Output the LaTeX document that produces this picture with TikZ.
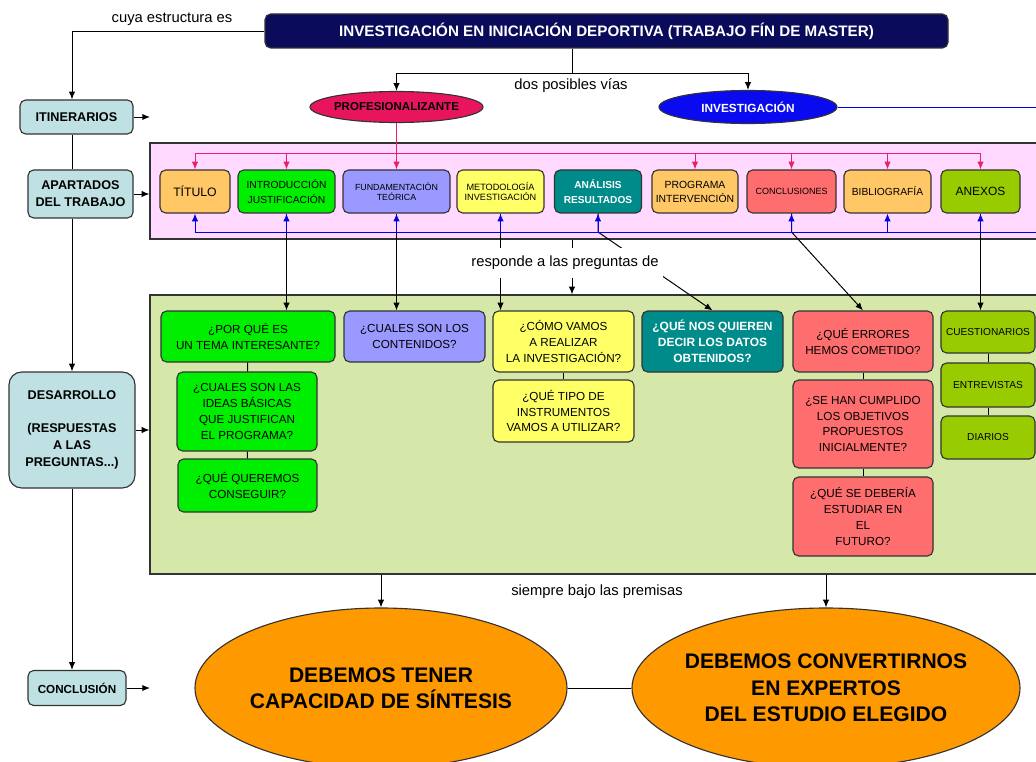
\documentclass[tikz,border=0pt]{standalone}
\usepackage{fontspec}
\setmainfont{Liberation Sans}
\usetikzlibrary{arrows.meta,shapes.geometric}

\definecolor{navy}{HTML}{0B0B5C}
\definecolor{sidebox}{HTML}{BFE1E4}
\definecolor{pinkzone}{HTML}{FFD9FF}
\definecolor{greenzone}{HTML}{D5E8A9}
\definecolor{crimson}{HTML}{E8155E}
\definecolor{pinkline}{HTML}{E8206A}
\definecolor{invblue}{HTML}{0A0AF0}
\definecolor{lineblue}{HTML}{0000E0}
\definecolor{peach}{HTML}{FFC766}
\definecolor{brightgreen}{HTML}{00EE00}
\definecolor{lavender}{HTML}{9999FF}
\definecolor{lightyellow}{HTML}{FFFF66}
\definecolor{tealbox}{HTML}{008B8B}
\definecolor{salmon}{HTML}{FF6E6E}
\definecolor{olivegreen}{HTML}{99CC00}
\definecolor{bigorange}{HTML}{FF9900}

\begin{document}
\begin{tikzpicture}[x=0.025cm, y=-0.025cm,
    sz/.style 2 args={minimum width=#1*0.025cm, minimum height=#2*0.025cm},
    box/.style={draw=black!80, line width=0.8pt, rounded corners=4pt, align=center, inner sep=1pt},
    side/.style={box, fill=sidebox, font=\fontsize{9}{11.9}\selectfont\bfseries},
    part/.style={box, fill=#1},
    ask/.style={box, fill=#1, font=\fontsize{8.3}{11.2}\selectfont},
    oval/.style={ellipse, draw=black!80, line width=0.8pt, inner xsep=-8pt, inner ysep=1pt, align=center},
    zone/.style={draw=black!80, line width=0.8pt, fill=#1, inner sep=0pt},
    flow/.style={line width=0.7pt, -{Latex[length=5.5pt,width=4.5pt]}},
    link/.style={line width=0.7pt},
    pinkflow/.style={flow, draw=pinkline},
    blueflow/.style={flow, draw=lineblue},
    phrase/.style={font=\fontsize{10.5}{12}\selectfont}]

    \useasboundingbox (0,0) rectangle (1036,761);

    % cabecera
    \node[box, fill=navy, text=white, font=\fontsize{10.8}{13}\selectfont\bfseries, sz={683}{34}] (title) at (606.5,31) {INVESTIGACIÓN EN INICIACIÓN DEPORTIVA (TRABAJO FÍN DE MASTER)};
    \node[phrase] (cuya) at (172,19) {cuya estructura es};
    \node[phrase] (vias) at (571,86) {dos posibles vías};
    \node[oval, fill=crimson, sz={173}{31}, font=\fontsize{8.2}{10}\selectfont\bfseries] (prof) at (396.5,107) {PROFESIONALIZANTE};
    \node[oval, fill=invblue, text=white, sz={178}{33}, font=\fontsize{8.4}{10}\selectfont\bfseries] (inv) at (748,107) {INVESTIGACIÓN};

    % columna izquierda
    \coordinate (spine) at (72,0);
    \coordinate (split) at (572,73);
    \coordinate (invturn) at (1060,107);
    \coordinate (itinend) at (150,117);
    \coordinate (concend) at (150,688);
    \node[side, sz={113}{34}] (itin) at (76.5,117) {ITINERARIOS};
    \node[side, sz={105}{48}] (apart) at (80.5,194) {APARTADOS\\DEL TRABAJO};
    \node[side, rounded corners=9pt, sz={126}{116}] (desar) at (72,430) {DESARROLLO\\[11.5pt](RESPUESTAS\\A LAS\\PREGUNTAS...)};
    \node[side, font=\fontsize{8.3}{10}\selectfont\bfseries, sz={98}{35}] (conc) at (77,688) {CONCLUSIÓN};

    % zonas
    \node[zone=pinkzone, sz={910}{96}] (apartzone) at (605,191) {};
    \node[zone=greenzone, sz={910}{279}] (desarzone) at (605,434.5) {};

    % apartados del trabajo
    \node[part=peach, sz={70}{43}, font=\fontsize{8.7}{10}\selectfont] (titulo) at (195,191.5) {TÍTULO};
    \node[part=brightgreen, sz={97}{43}, font=\fontsize{7.3}{10.5}\selectfont] (intro) at (286.5,191.5) {INTRODUCCIÓN\\JUSTIFICACIÓN};
    \node[part=lavender, sz={107}{43}, font=\fontsize{6.3}{7}\selectfont] (fund) at (396.5,191.5) {FUNDAMENTACIÓN\\TEÓRICA};
    \node[part=lightyellow, sz={87}{43}, font=\fontsize{6.5}{7.2}\selectfont] (metod) at (500.5,191.5) {METODOLOGÍA\\INVESTIGACIÓN};
    \node[part=tealbox, text=white, sz={87}{43}, font=\fontsize{7.2}{10.5}\selectfont\bfseries] (analisis) at (598,191.5) {ANÁLISIS\\RESULTADOS};
    \node[part=peach, sz={86}{43}, font=\fontsize{7.4}{10}\selectfont] (programa) at (695,191.5) {PROGRAMA\\INTERVENCIÓN};
    \node[part=salmon, sz={89}{43}, font=\fontsize{6.4}{8}\selectfont] (concl) at (791.5,191.5) {CONCLUSIONES};
    \node[part=peach, sz={87}{43}, font=\fontsize{7.3}{9}\selectfont] (biblio) at (887.5,191.5) {BIBLIOGRAFÍA};
    \node[part=olivegreen, sz={79}{43}, font=\fontsize{8.5}{10}\selectfont] (anexos) at (980.5,191.5) {ANEXOS};

    % preguntas
    \node[ask=brightgreen, sz={174}{51}] (porque) at (248,336.5) {¿POR QUÉ ES\\UN TEMA INTERESANTE?};
    \node[ask=brightgreen, sz={140}{79}] (ideas) at (247,411.5) {¿CUALES SON LAS\\IDEAS BÁSICAS\\QUE JUSTIFICAN\\EL PROGRAMA?};
    \node[ask=brightgreen, sz={139}{53}] (conseguir) at (247.5,485.5) {¿QUÉ QUEREMOS\\CONSEGUIR?};
    \node[ask=lavender, sz={141}{51}] (contenidos) at (414.5,336.5) {¿CUALES SON LOS\\CONTENIDOS?};
    \node[ask=lightyellow, sz={141}{61}] (como) at (563.5,341.5) {¿CÓMO VAMOS\\A REALIZAR\\LA INVESTIGACIÓN?};
    \node[ask=lightyellow, sz={141}{62}] (instrumentos) at (563.5,411) {¿QUÉ TIPO DE\\INSTRUMENTOS\\VAMOS A UTILIZAR?};
    \node[ask=tealbox, text=white, font=\fontsize{8.5}{11.2}\selectfont\bfseries, sz={141}{61}] (datos) at (712.5,341.5) {¿QUÉ NOS QUIEREN\\DECIR LOS DATOS\\OBTENIDOS?};
    \node[ask=salmon, sz={140}{61}] (errores) at (863,341.5) {¿QUÉ ERRORES\\HEMOS COMETIDO?};
    \node[ask=salmon, sz={140}{88}] (objetivos) at (863,424) {¿SE HAN CUMPLIDO\\LOS OBJETIVOS\\PROPUESTOS\\INICIALMENTE?};
    \node[ask=salmon, sz={140}{79}] (futuro) at (863,516.5) {¿QUÉ SE DEBERÍA\\ESTUDIAR EN\\EL\\FUTURO?};
    \node[ask=olivegreen, sz={94}{42}, font=\fontsize{7.2}{9}\selectfont] (cuest) at (988,332) {CUESTIONARIOS};
    \node[ask=olivegreen, sz={94}{44}, font=\fontsize{7.2}{9}\selectfont] (entrev) at (988,385) {ENTREVISTAS};
    \node[ask=olivegreen, sz={94}{43}, font=\fontsize{7.2}{9}\selectfont] (diarios) at (988,437.5) {DIARIOS};

    % premisas
    \node[phrase] (premisas) at (597,592) {siempre bajo las premisas};
    \node[oval, fill=bigorange, sz={372}{160}, font=\fontsize{15}{18.8}\selectfont\bfseries] (sintesis) at (381,688) {DEBEMOS TENER\\CAPACIDAD DE SÍNTESIS};
    \node[oval, fill=bigorange, sz={388}{160}, font=\fontsize{15}{18.8}\selectfont\bfseries] (expertos) at (826,688) {DEBEMOS CONVERTIRNOS\\EN EXPERTOS\\DEL ESTUDIO ELEGIDO};

    % conexiones
    \draw[flow] (title.west) -| (itin.north -| spine);
    \draw[link] (itin.south -| spine) -- (apart.north -| spine);
    \draw[flow] (apart.south -| spine) -- (desar.north -| spine);
    \draw[flow] (desar.south -| spine) -- (conc.north -| spine);
    \draw[flow] (itin.east) -- (itinend);
    \draw[flow] (apart.east) -- (apart.east -| apartzone.west);
    \draw[flow] (desar.east) -- (desar.east -| desarzone.west);
    \draw[flow] (conc.east) -- (concend);

    \draw[link] (title.south -| split) -- (split);
    \draw[flow] (split) -| (prof.north);
    \draw[flow] (split) -| (inv.north);

    \draw[flow] (intro.south) -- (intro.south |- porque.north);
    \draw[flow] (fund.south) -- (fund.south |- contenidos.north);
    \draw[flow] (metod.south) -- (metod.south |- como.north);
    \draw[flow] (analisis.south) -- (analisis.south |- 0,232) -- (datos.north);
    \draw[flow] (concl.south) -- (concl.south |- 0,232) -- (errores.north);
    \draw[flow] (anexos.south) -- (anexos.south |- cuest.north);

    \draw[link] (porque) -- (ideas) (ideas) -- (conseguir);
    \draw[link] (como) -- (instrumentos);
    \draw[link] (errores) -- (objetivos) (objetivos) -- (futuro);
    \draw[link] (cuest) -- (entrev) (entrev) -- (diarios);

    \draw[pinkflow] (prof.south) -- (fund.north);
    \draw[draw=pinkline, line width=0.7pt] (titulo.north |- 0,153) -- (anexos.north |- 0,153);
    \foreach \n in {titulo,intro,programa,concl,biblio,anexos}
        \draw[pinkflow] (\n.north |- 0,153) -- (\n.north);

    \draw[draw=lineblue, line width=0.7pt] (inv.east) -- (invturn) |- (titulo.south |- 0,232);
    \foreach \n in {titulo,intro,fund,metod,analisis,concl,biblio,anexos}
        \draw[blueflow] (\n.south |- 0,232) -- (\n.south);

    \draw[link] (apartzone.south -| split) -- (split |- 0,248);
    \node[phrase, fill=white, minimum height=30*0.025cm] (resp) at (565,263) {responde a las preguntas de};
    \draw[flow] (resp.south -| split) -- (desarzone.north -| split);

    \draw[flow] (desarzone.south -| sintesis.north) -- (sintesis.north);
    \draw[flow] (desarzone.south -| expertos.north) -- (expertos.north);
    \draw[link] (sintesis.east) -- (expertos.west);
\end{tikzpicture}
\end{document}
